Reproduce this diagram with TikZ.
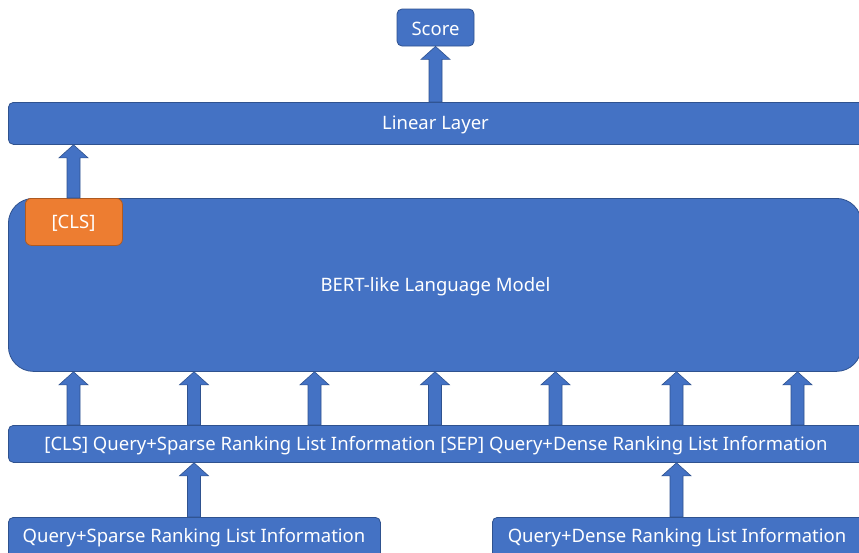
\documentclass[tikz,border=0pt]{standalone}
\usepackage{fontspec}
\setmainfont{Noto Sans}
\usetikzlibrary{calc}
\definecolor{bfill}{HTML}{4472C4}
\definecolor{bdraw}{HTML}{2F528F}
\definecolor{ofill}{HTML}{ED7D31}
\definecolor{odraw}{HTML}{AE5A21}
\tikzset{
  box/.style={draw=bdraw, fill=bfill, line width=0.8pt, rounded corners=5pt, text=white, font=\fontsize{18.5}{22}\selectfont, inner sep=0pt},
  clsbox/.style={draw=odraw, fill=ofill, line width=0.8pt, rounded corners=6pt, text=white, font=\fontsize{18.5}{22}\selectfont, inner sep=0pt},
  blockarr/.style={draw=bdraw, fill=bfill, line width=0.6pt},
  lbl/.style={text=white, font=\fontsize{18.5}{22}\selectfont, inner sep=0pt}
}
\newcommand{\barrow}[2]{%
  \path let \p1=(#1), \p2=(#2) in
    [blockarr] (\x1-6.5pt,\y1) -- (\x1-6.5pt,\y2-13pt) -- (\x1-14.5pt,\y2-13pt) -- (\x1,\y2)
    -- (\x1+14.5pt,\y2-13pt) -- (\x1+6.5pt,\y2-13pt) -- (\x1+6.5pt,\y1) -- cycle;}
\begin{document}
\begin{tikzpicture}[x=1pt,y=-1pt]
\useasboundingbox (0,0) rectangle (859,552);
\clip (0,0) rectangle (859,552);
\fill[white] (0,0) rectangle (859,552);
% Score
\node[box, minimum width=77pt, minimum height=37pt] (score) at (435.5,27.5) {};
\node[lbl] (scorelbl) at (435.5,29) {Score};
% Linear layer
\node[box, minimum width=862pt, minimum height=42pt, anchor=north west] (lin) at (8,102) {};
\node[lbl] (linlbl) at (435.5,125) {Linear Layer};
% BERT
\node[box, rounded corners=25pt, minimum width=853pt, minimum height=173pt, anchor=north west] (bert) at (8,198) {};
\node[lbl] (bertlbl) at (435.5,287) {BERT-like Language Model};
\node[clsbox, minimum width=97pt, minimum height=47pt, anchor=north west] (cls) at (25,198) {};
\node[lbl] (clslbl) at (73.5,223) {[CLS]};
% Input
\node[box, minimum width=860pt, minimum height=37pt, anchor=north west] (inp) at (8,425) {};
\node[lbl] (inplbl) at (436,445.5) {[CLS] Query+Sparse Ranking List Information [SEP] Query+Dense Ranking List Information};
% Bottom boxes
\node[box, minimum width=372pt, minimum height=45pt, anchor=north west] (sp) at (8,517) {};
\node[lbl] (splbl) at (194,538) {Query+Sparse Ranking List Information};
\node[box, minimum width=380pt, minimum height=45pt, anchor=north west] (de) at (492,517) {};
\node[lbl] (delbl) at (677,538) {Query+Dense Ranking List Information};
% arrow columns
\coordinate (c0) at (435.5,0);
\coordinate (c1) at (73.5,0);
\coordinate (c2) at (194,0);
\coordinate (c3) at (314.5,0);
\coordinate (c4) at (435,0);
\coordinate (c5) at (555.5,0);
\coordinate (c6) at (676.5,0);
\coordinate (c7) at (797.5,0);
% arrows
\barrow{lin.north -| c0}{score.south -| c0}
\barrow{bert.north -| c1}{lin.south -| c1}
\foreach \i in {1,...,7}{\barrow{inp.north -| c\i}{bert.south -| c\i}}
\barrow{sp.north -| c2}{inp.south -| c2}
\barrow{de.north -| c6}{inp.south -| c6}
\end{tikzpicture}
\end{document}
